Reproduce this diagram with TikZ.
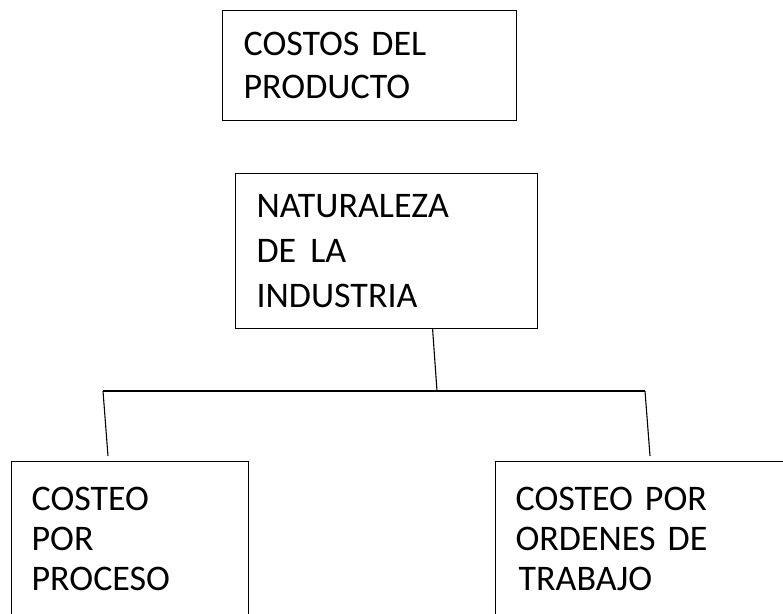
\documentclass[tikz,border=0pt]{standalone}
\usepackage{fontspec}
\setmainfont{Carlito}
\usetikzlibrary{positioning,calc}
\tikzset{
  every picture/.append style={line width=1.2pt},
  box/.style={draw, align=left, anchor=north west, inner xsep=21pt, inner ysep=0pt, font=\fontsize{36}{45}\selectfont},
  link/.style={draw, line width=1.1pt}
}
\begin{document}
\begin{tikzpicture}[x=1pt,y=-1pt]
\path[use as bounding box, clip] (0,0) rectangle (783,613);
\node[box, text width=252pt, minimum height=110pt, font=\fontsize{36}{43}\selectfont] (prod) at (222,10) {COSTOS DEL\\PRODUCTO};
\node[box, text width=260pt, minimum height=155pt] (nat) at (235,173) {NATURALEZA\\DE\ \hspace{2pt}LA\\INDUSTRIA};
\node[box, inner xsep=20pt, text width=197pt, minimum height=154pt, font=\fontsize{36}{40}\selectfont] (proc) at (11,461) {COSTEO\\POR\\PROCESO};
\node[box, inner xsep=20pt, text width=330pt, minimum height=154pt, font=\fontsize{36}{40}\selectfont] (ord) at (495,461) {COSTEO POR\\ORDENES DE\\\hspace*{3pt}TRABAJO};
\coordinate (hub) at (437,391);
\coordinate (hubl) at (103,391);
\coordinate (hubr) at (645,391);
\coordinate (tipl) at (108,456);
\coordinate (tipr) at (650,456);
\path[link] ([xshift=46pt]nat.south) -- (hub);
\path[link] (hubl) -- (hubr);
\path[link] (hubl) -- (tipl);
\path[link] (hubr) -- (tipr);
\end{tikzpicture}
\end{document}
